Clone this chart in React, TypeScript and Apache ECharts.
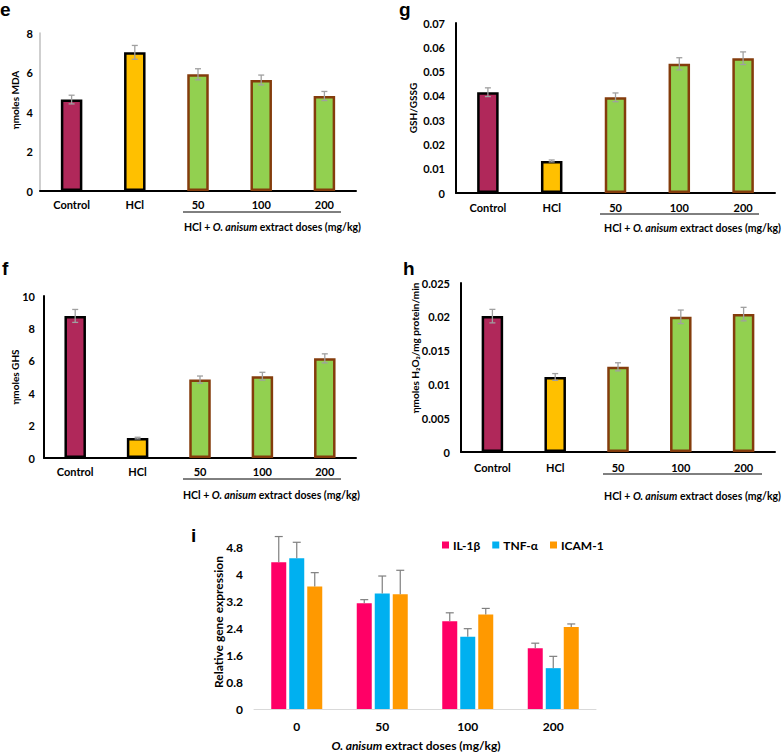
import React, { useEffect, useRef } from "react";
import * as echarts from "echarts";

// ---------- data ----------
const groups = ["Control", "HCl", "50", "100", "200"];
const mdaValues = [4.63, 7.02, 5.91, 5.62, 4.81];
const mdaErrors = [0.22, 0.35, 0.28, 0.25, 0.23];
const gshRatioValues = [0.0415, 0.0132, 0.0394, 0.0532, 0.0555];
const gshRatioErrors = [0.0018, 0.0004, 0.0018, 0.0025, 0.0026];
const ghsValues = [8.77, 1.23, 4.84, 5.05, 6.15];
const ghsErrors = [0.4, 0.05, 0.22, 0.24, 0.28];
const h2o2Values = [0.0201, 0.0111, 0.0126, 0.02, 0.0204];
const h2o2Errors = [0.001, 0.0005, 0.0006, 0.001, 0.001];

const doses = ["0", "50", "100", "200"];
const geneNames = ["IL-1β", "TNF-α", "ICAM-1"];
const il1bValues = [4.35, 3.13, 2.6, 1.8];
const il1bErrors = [0.76, 0.11, 0.25, 0.15];
const tnfaValues = [4.47, 3.42, 2.14, 1.21];
const tnfaErrors = [0.47, 0.52, 0.24, 0.35];
const icam1Values = [3.63, 3.4, 2.8, 2.43];
const icam1Errors = [0.41, 0.71, 0.18, 0.09];

// ---------- styles ----------
const FONT = "Lato, 'Open Sans', sans-serif";
const barFills = ["#B0285A", "#FFC000", "#92D050", "#92D050", "#92D050"];
const barBorders = ["#000000", "#000000", "#843C0C", "#843C0C", "#843C0C"];
const geneColors = ["#FF0066", "#00B0F0", "#FF9900"];

const fmt = (d: number) => (v: number) => String(+(+v).toFixed(d));

function errorSeries(axis: number, values: number[], errors: number[], capHalf: number, color: string) {
  return {
    type: "custom",
    xAxisIndex: axis,
    yAxisIndex: axis,
    clip: false,
    z: 5,
    silent: true,
    encode: { x: 0, y: [1, 2] },
    data: values.map((v, i) => [i, v - errors[i], v + errors[i]]),
    renderItem: (params: any, api: any) => {
      const lo = api.coord([api.value(0), api.value(1)]);
      const hi = api.coord([api.value(0), api.value(2)]);
      const st = { stroke: color, lineWidth: 1.3 };
      return {
        type: "group",
        children: [
          { type: "line", shape: { x1: lo[0], y1: lo[1], x2: hi[0], y2: hi[1] }, style: st },
          { type: "line", shape: { x1: lo[0] - capHalf, y1: lo[1], x2: lo[0] + capHalf, y2: lo[1] }, style: st },
          { type: "line", shape: { x1: hi[0] - capHalf, y1: hi[1], x2: hi[0] + capHalf, y2: hi[1] }, style: st },
        ],
      };
    },
  };
}

function geneErrorSeries(s: number, values: number[], errors: number[]) {
  const offsets = [-18, 0, 18];
  return {
    type: "custom",
    xAxisIndex: 4,
    yAxisIndex: 4,
    clip: false,
    z: 5,
    silent: true,
    encode: { x: 0, y: [1, 2] },
    data: values.map((v, i) => [i, v, v + errors[i]]),
    renderItem: (params: any, api: any) => {
      const lo = api.coord([api.value(0), api.value(1)]);
      const hi = api.coord([api.value(0), api.value(2)]);
      const x = lo[0] + offsets[s];
      const st = { stroke: "#7F7F7F", lineWidth: 1.2 };
      return {
        type: "group",
        children: [
          { type: "line", shape: { x1: x, y1: lo[1], x2: x, y2: hi[1] }, style: st },
          { type: "line", shape: { x1: x - 4, y1: hi[1], x2: x + 4, y2: hi[1] }, style: st },
        ],
      };
    },
  };
}

function barSeries(axis: number, values: number[]) {
  return {
    type: "bar",
    xAxisIndex: axis,
    yAxisIndex: axis,
    barWidth: 21.5,
    data: values.map((v, i) => ({
      value: v,
      itemStyle: { color: barFills[i], borderColor: barBorders[i], borderWidth: 2.5 },
    })),
  };
}

function catAxis(grid: number, margin: number) {
  return {
    type: "category",
    gridIndex: grid,
    data: groups,
    axisLine: { lineStyle: { color: "#000", width: 2 } },
    axisTick: { show: false },
    axisLabel: { interval: 0, margin, color: "#000", fontWeight: "bold", fontSize: 11, fontFamily: FONT },
  };
}

function valAxis(grid: number, max: number, interval: number, decimals: number, margin: number, lineColor: string, lineWidth: number) {
  return {
    type: "value",
    gridIndex: grid,
    min: 0,
    max,
    interval,
    splitLine: { show: false },
    axisTick: { show: false },
    axisLine: { show: true, lineStyle: { color: lineColor, width: lineWidth } },
    axisLabel: { margin, color: "#000", fontWeight: "bold", fontSize: 11, fontFamily: FONT, formatter: fmt(decimals) },
  };
}

function panelLetter(t: string, x: number, y: number) {
  return {
    type: "text",
    x,
    y,
    style: { text: t, fill: "#000", font: "bold 19px 'Liberation Sans', Arial, sans-serif", textVerticalAlign: "middle" },
  };
}

function yTitle(t: string, x: number, y: number, size: number) {
  return {
    type: "text",
    x,
    y,
    rotation: Math.PI / 2,
    style: {
      text: t,
      fill: "#000",
      font: `bold ${size}px ${FONT}`,
      textAlign: "center",
      textVerticalAlign: "middle",
    },
  };
}

function doseTitle(x: number, y: number, align: string) {
  const base = { fontFamily: FONT, fontSize: 10.5, fontWeight: "bold", fill: "#000" };
  return {
    type: "text",
    x,
    y,
    style: {
      text: "{n|HCl + }{i|O. anisum}{n| extract doses (mg/kg)}",
      textAlign: align,
      textVerticalAlign: "middle",
      rich: { n: { ...base }, i: { ...base, fontStyle: "italic" } },
    },
  };
}

function underline(x1: number, x2: number, y: number) {
  return { type: "line", shape: { x1, y1: y, x2, y2: y }, style: { stroke: "#000", lineWidth: 1 } };
}

export default function App() {
  const ref = useRef<HTMLDivElement>(null);
  useEffect(() => {
    document.body.style.margin = "0";
    if (!ref.current) return;
    const chart = echarts.init(ref.current, null, { renderer: "svg" });
    const option: any = {
      animation: false,
      backgroundColor: "#fff",
      textStyle: { fontFamily: FONT },
      grid: [
        { left: 40, top: 33, width: 316, height: 158 },
        { left: 456, top: 23, width: 319, height: 170 },
        { left: 44, top: 296, width: 312, height: 162 },
        { left: 461, top: 283, width: 314, height: 169 },
        { left: 254, top: 547, width: 342, height: 162 },
      ],
      xAxis: [
        catAxis(0, 8),
        catAxis(1, 9),
        catAxis(2, 8),
        catAxis(3, 10),
        {
          type: "category",
          gridIndex: 4,
          data: doses,
          axisLine: { lineStyle: { color: "#D9D9D9", width: 1 } },
          axisTick: { show: false },
          axisLabel: { interval: 0, margin: 11, color: "#000", fontWeight: "bold", fontSize: 12, fontFamily: FONT },
        },
      ],
      yAxis: [
        valAxis(0, 8, 2, 0, 7, "#BFBFBF", 1.5),
        valAxis(1, 0.07, 0.01, 2, 11, "#000", 2),
        valAxis(2, 10, 2, 0, 9, "#000", 2),
        valAxis(3, 0.025, 0.005, 3, 11, "#000", 2),
        {
          type: "value",
          gridIndex: 4,
          min: 0,
          max: 4.8,
          interval: 0.8,
          splitLine: { show: false },
          axisTick: { show: false },
          axisLine: { show: false },
          axisLabel: { margin: 11, color: "#000", fontWeight: "bold", fontSize: 12, fontFamily: FONT, formatter: fmt(1) },
        },
      ],
      legend: {
        data: geneNames,
        left: 437,
        top: 534,
        icon: "rect",
        itemWidth: 7,
        itemHeight: 7,
        itemGap: 12,
        textStyle: { color: "#000", fontWeight: "bold", fontSize: 12, fontFamily: FONT, padding: [0, 0, 0, -1] },
      },
      series: [
        barSeries(0, mdaValues),
        errorSeries(0, mdaValues, mdaErrors, 3, "#A0A0A0"),
        barSeries(1, gshRatioValues),
        errorSeries(1, gshRatioValues, gshRatioErrors, 3, "#A0A0A0"),
        barSeries(2, ghsValues),
        errorSeries(2, ghsValues, ghsErrors, 3, "#A0A0A0"),
        barSeries(3, h2o2Values),
        errorSeries(3, h2o2Values, h2o2Errors, 3, "#A0A0A0"),
        { type: "bar", name: geneNames[0], xAxisIndex: 4, yAxisIndex: 4, barWidth: 15, barGap: "20%", itemStyle: { color: geneColors[0] }, data: il1bValues },
        { type: "bar", name: geneNames[1], xAxisIndex: 4, yAxisIndex: 4, barWidth: 15, barGap: "20%", itemStyle: { color: geneColors[1] }, data: tnfaValues },
        { type: "bar", name: geneNames[2], xAxisIndex: 4, yAxisIndex: 4, barWidth: 15, barGap: "20%", itemStyle: { color: geneColors[2] }, data: icam1Values },
        geneErrorSeries(0, il1bValues, il1bErrors),
        geneErrorSeries(1, tnfaValues, tnfaErrors),
        geneErrorSeries(2, icam1Values, icam1Errors),
      ],
      graphic: [
        panelLetter("e", 0, 9),
        panelLetter("g", 399, 9),
        panelLetter("f", 2, 268),
        panelLetter("h", 403, 268),
        panelLetter("i", 191, 535),
        yTitle("ηmoles MDA", 15, 100, 10),
        yTitle("GSH/GSSG", 413, 108, 10),
        yTitle("ηmoles GHS", 15, 377, 10),
        yTitle("ηmoles H₂O₂/mg protein/min", 415, 348, 10),
        yTitle("Relative gene expression", 218, 622, 12),
        underline(183, 341, 212),
        underline(600, 759, 214),
        underline(183, 341, 479),
        underline(603, 762, 474),
        doseTitle(184, 227, "left"),
        doseTitle(781, 228, "right"),
        doseTitle(183, 495, "left"),
        doseTitle(781, 496, "right"),
        {
          type: "text",
          x: 416,
          y: 745,
          style: {
            text: "{i|O. anisum}{n| extract doses (mg/kg)}",
            textAlign: "center",
            textVerticalAlign: "middle",
            rich: {
              n: { fontFamily: FONT, fontSize: 12, fontWeight: "bold", fill: "#000" },
              i: { fontFamily: FONT, fontSize: 12, fontWeight: "bold", fontStyle: "italic", fill: "#000" },
            },
          },
        },
      ],
    };
    chart.setOption(option);
    return () => chart.dispose();
  }, []);
  return <div ref={ref} style={{ width: 783, height: 752 }} />;
}
